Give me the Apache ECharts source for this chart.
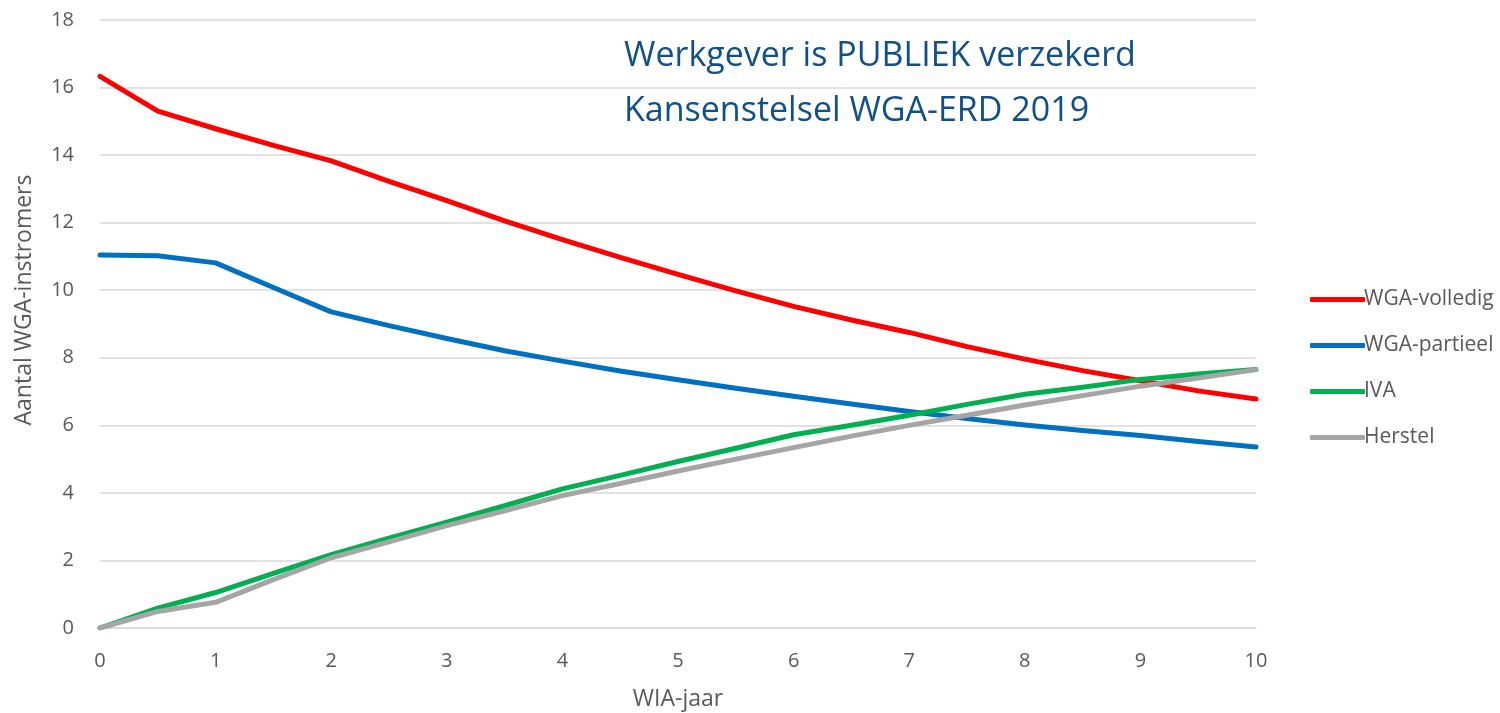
<!DOCTYPE html>
<html>
<head>
<meta charset="utf-8">
<script src="https://cdn.jsdelivr.net/npm/echarts@6/dist/echarts.min.js"></script>
<style>
  html, body { margin: 0; padding: 0; background: #fff; }
  #chart { width: 1500px; height: 713px; }
</style>
</head>
<body>
<div id="chart"></div>
<script>
// WIA-jaar, per half jaar
const years = [0, 0.5, 1, 1.5, 2, 2.5, 3, 3.5, 4, 4.5, 5, 5.5, 6, 6.5, 7, 7.5, 8, 8.5, 9, 9.5, 10]

const wgaVolledig = [16.33, 15.3, 14.78, 14.29, 13.83, 13.22, 12.65, 12.05, 11.5, 10.97, 10.47, 9.98, 9.52, 9.12, 8.75, 8.33, 7.96, 7.62, 7.32, 7.02, 6.78]
const wgaPartieel = [11.04, 11.02, 10.81, 10.08, 9.36, 8.95, 8.57, 8.21, 7.9, 7.61, 7.35, 7.1, 6.86, 6.63, 6.41, 6.2, 6.01, 5.85, 5.7, 5.52, 5.36]
const iva = [0, 0.59, 1.05, 1.62, 2.17, 2.66, 3.13, 3.62, 4.12, 4.52, 4.93, 5.32, 5.72, 6.0, 6.3, 6.62, 6.92, 7.13, 7.36, 7.52, 7.65]
const herstel = [0, 0.49, 0.76, 1.43, 2.08, 2.55, 3.03, 3.47, 3.92, 4.28, 4.65, 5.0, 5.34, 5.68, 6.0, 6.3, 6.6, 6.88, 7.16, 7.4, 7.65]

const seriesNames = ['WGA-volledig', 'WGA-partieel', 'IVA', 'Herstel']
const seriesValues = [wgaVolledig, wgaPartieel, iva, herstel]
const seriesColors = ['#ff0000', '#0070c0', '#00b050', '#a5a5a5']

const titleLines = ['Werkgever is PUBLIEK verzekerd', 'Kansenstelsel WGA-ERD 2019']

const font = '"Open Sans", "Noto Sans", sans-serif'
const myChart = echarts.init(document.getElementById('chart'))

const option = {
  backgroundColor: '#fff',
  animation: false,
  textStyle: { fontFamily: font },
  title: {
    text: titleLines.join('\n'),
    left: 619,
    top: 24,
    textStyle: {
      fontFamily: font,
      fontSize: 34,
      fontWeight: 'normal',
      color: '#0f4f8a',
      lineHeight: 55
    }
  },
  legend: {
    orient: 'vertical',
    left: 1305,
    top: 283,
    itemWidth: 55,
    itemHeight: 5,
    itemGap: 23,
    icon: 'roundRect',
    data: seriesNames,
    textStyle: {
      fontFamily: font,
      fontSize: 21,
      color: '#595959',
      padding: [0, 0, 0, -6],
      lineHeight: 23
    }
  },
  grid: {
    left: 100,
    right: 244,
    top: 20,
    bottom: 85,
    outerBoundsMode: 'none'
  },
  xAxis: {
    type: 'value',
    min: 0,
    max: 10,
    interval: 1,
    name: 'WIA-jaar',
    nameLocation: 'middle',
    nameGap: 60,
    nameTextStyle: { fontFamily: font, fontSize: 23, color: '#595959' },
    axisLine: { show: true, lineStyle: { color: '#d9d9d9', width: 1.5 } },
    axisTick: { show: false },
    axisLabel: { fontFamily: font, fontSize: 20, color: '#595959', margin: 23 },
    splitLine: { show: false }
  },
  yAxis: {
    type: 'value',
    min: 0,
    max: 18,
    interval: 2,
    name: 'Aantal WGA-instromers',
    nameLocation: 'middle',
    nameGap: 64,
    nameTextStyle: { fontFamily: font, fontSize: 23, color: '#595959', padding: [0, 0, 0, 48] },
    axisLine: { show: false },
    axisTick: { show: false },
    axisLabel: { fontFamily: font, fontSize: 20, color: '#595959', margin: 26 },
    splitLine: { lineStyle: { color: '#d9d9d9', width: 1.5 } }
  },
  series: seriesNames.map((name, i) => ({
    name: name,
    type: 'line',
    symbol: 'none',
    lineStyle: { width: 5, color: seriesColors[i], cap: 'round', join: 'round' },
    itemStyle: { color: seriesColors[i] },
    data: years.map((x, j) => [x, seriesValues[i][j]])
  }))
}

myChart.setOption(option)
</script>
</body>
</html>
